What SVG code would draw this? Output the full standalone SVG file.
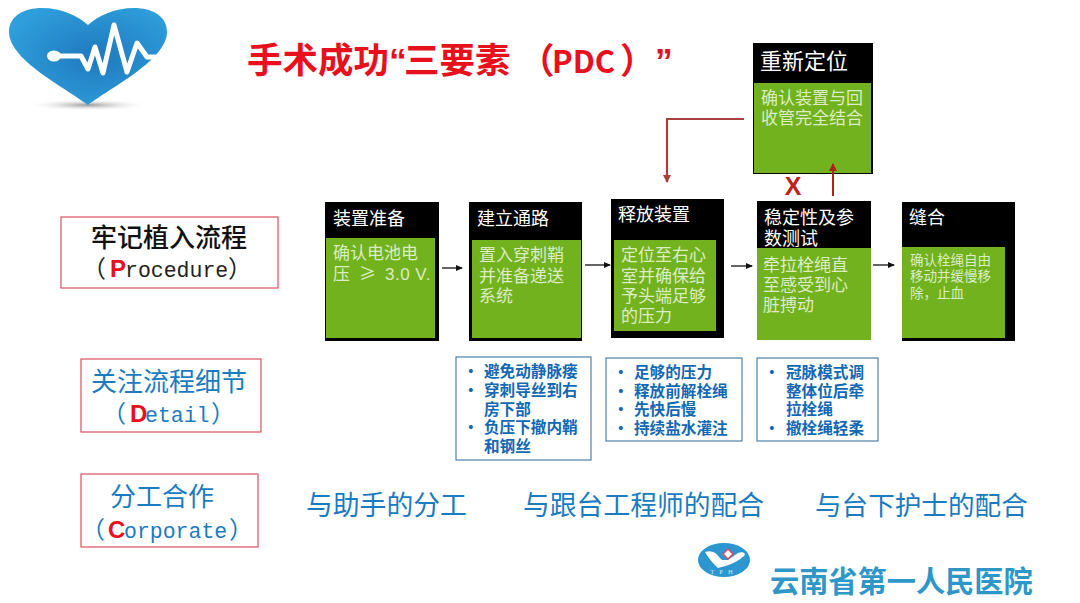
<svg xmlns="http://www.w3.org/2000/svg" width="1080" height="603" viewBox="0 0 1080 603">
<style>
text{font-family:"Noto Sans CJK SC","Liberation Sans",sans-serif}
.blk{fill:#000}
.grn{fill:#73b21f}
.hd{fill:#fff;font-size:18px}
.bd{fill:#dcedc4;font-size:17px}
.lbl{fill:#fff;stroke:#d9505f;stroke-width:1.2}
.det{fill:#fff;stroke:#4f81a8;stroke-width:1.2}
.dt{fill:#1168b4;font-size:15.6px;font-weight:700}
.big{font-size:26px}
.mono{font-family:"Liberation Mono","Noto Sans CJK SC",monospace;font-size:21.5px}
.par{font-family:"Noto Sans CJK SC",sans-serif;font-size:24px}
.blue{fill:#1b7bc0}
.red{fill:#e8101c;font-weight:700;font-size:24px;font-family:"Liberation Sans",sans-serif}
.conn{fill:none;stroke:#111;stroke-width:1.3;marker-end:url(#ah)}
.back{fill:none;stroke:#a8423f;stroke-width:2.2;marker-end:url(#rh)}
.ttl{font-size:35.5px;font-weight:700;fill:#e8101c}
</style>
<defs>
<marker id="ah" markerWidth="7" markerHeight="6" refX="6" refY="3" orient="auto" markerUnits="userSpaceOnUse"><path d="M0 0L7 3L0 6z" fill="#111"/></marker>
<marker id="rh" markerWidth="8" markerHeight="9" refX="7" refY="4" orient="auto" markerUnits="userSpaceOnUse"><path d="M0 0L8 4L0 8z" fill="#a8423f"/></marker>
<marker id="rh2" markerWidth="8" markerHeight="9" refX="7" refY="4" orient="auto" markerUnits="userSpaceOnUse"><path d="M0 0L8 4L0 8z" fill="#b0201c"/></marker>
<radialGradient id="sh"><stop offset="0" stop-color="#9a9a9a"/><stop offset="1" stop-color="#fff" stop-opacity="0"/></radialGradient>
<radialGradient id="hg" cx="0.55" cy="0.5" r="0.6"><stop offset="0" stop-color="#1f78bd"/><stop offset="1" stop-color="#2f9fdc"/></radialGradient>
</defs>
<rect width="1080" height="603" fill="#fff"/>

<g id="heart-logo">
<ellipse cx="88" cy="105" rx="62" ry="6" fill="url(#sh)"/>
<path d="M88 105C66 88 9 60 9 32C9 16 24 8 42 8C62 8 78 16 88 25C98 16 114 8 134 8C152 8 167 16 167 32C167 60 110 88 88 105z" fill="url(#hg)"/>
<path d="M53 56H81L88 69L95 47L103 73L114 25L127 72L137 43L147 57H158" fill="none" stroke="#fff" stroke-width="5" stroke-linejoin="round" stroke-linecap="round"/>
<ellipse cx="54" cy="56" rx="7" ry="5.5" fill="#fff"/>
</g>

<text id="title" class="ttl" y="73"><tspan x="247">手术成功</tspan><tspan x="389" font-family="Liberation Sans">“</tspan><tspan x="404">三要素</tspan><tspan x="519">（</tspan><tspan x="552" font-size="31">PDC</tspan><tspan x="620">）</tspan><tspan x="655" font-family="Liberation Sans">”</tspan></text>

<g id="node-relocate">
<rect class="blk" x="753" y="43" width="120" height="131"/>
<rect class="grn" x="754" y="83" width="117" height="90"/>
<text class="hd" x="760" y="69" style="font-size:22px">重新定位</text>
<text class="bd" x="761" y="104">确认装置与回</text>
<text class="bd" x="761" y="124">收管完全结合</text>
</g>

<g id="node-prepare">
<rect class="blk" x="325" y="202" width="114" height="139"/>
<rect class="grn" x="326" y="238" width="109" height="100"/>
<text class="hd" x="333" y="225">装置准备</text>
<text class="bd" x="333" y="259">确认电池电</text>
<text class="bd" y="280"><tspan x="333">压</tspan><tspan x="359">≥</tspan><tspan x="385" style="font-family:'Liberation Sans',sans-serif" font-size="17" letter-spacing="0.5">3.0 V.</tspan></text>
</g>

<g id="node-access">
<rect class="blk" x="469" y="202" width="113" height="139"/>
<rect class="grn" x="472" y="240" width="109" height="98"/>
<text class="hd" x="477" y="225">建立通路</text>
<text class="bd" x="479" y="261">置入穿刺鞘</text>
<text class="bd" x="479" y="282">并准备递送</text>
<text class="bd" x="479" y="302">系统</text>
</g>

<g id="node-release">
<rect class="blk" x="611" y="199" width="113" height="139"/>
<rect class="grn" x="614" y="240" width="102" height="91"/>
<text class="hd" x="618" y="221">释放装置</text>
<text class="bd" x="621" y="261">定位至右心</text>
<text class="bd" x="621" y="282">室并确保给</text>
<text class="bd" x="621" y="302">予头端足够</text>
<text class="bd" x="621" y="322">的压力</text>
</g>

<g id="node-test">
<rect class="blk" x="757" y="201" width="114" height="139"/>
<rect class="grn" x="757" y="248" width="114" height="92"/>
<text class="hd" x="764" y="224">稳定性及参</text>
<text class="hd" x="764" y="245">数测试</text>
<text class="bd" x="763" y="271">牵拉栓绳直</text>
<text class="bd" x="763" y="291">至感受到心</text>
<text class="bd" x="763" y="311">脏搏动</text>
</g>

<g id="node-suture">
<rect class="blk" x="902" y="202" width="113" height="139"/>
<rect class="grn" x="902" y="247" width="103" height="91"/>
<text class="hd" x="909" y="224">缝合</text>
<text class="bd" x="910" y="265" style="font-size:13.5px">确认栓绳自由</text>
<text class="bd" x="910" y="281" style="font-size:13.5px">移动并缓慢移</text>
<text class="bd" x="910" y="298" style="font-size:13.5px">除，止血</text>
</g>

<g id="connectors">
<path class="conn" d="M442 268H462"/>
<path class="conn" d="M585 265H610"/>
<path class="conn" d="M731 266H752"/>
<path class="conn" d="M873 265H894"/>
<path class="back" d="M744 119H667V182"/>
<path d="M833 196V164" fill="none" stroke="#b0201c" stroke-width="2" marker-end="url(#rh2)"/>
</g>
<text id="x-mark" x="793" y="195" font-size="25" font-weight="700" fill="#c0201c" text-anchor="middle" style="font-family:'Liberation Sans',sans-serif">X</text>

<g id="detail-access">
<rect class="det" x="456" y="357" width="135" height="103"/>
<text class="dt" x="463" y="377">•</text><text class="dt" x="484" y="377">避免动静脉瘘</text>
<text class="dt" x="463" y="396">•</text><text class="dt" x="484" y="396">穿刺导丝到右</text>
<text class="dt" x="484" y="415">房下部</text>
<text class="dt" x="463" y="433">•</text><text class="dt" x="484" y="433">负压下撤内鞘</text>
<text class="dt" x="484" y="452">和钢丝</text>
</g>

<g id="detail-release">
<rect class="det" x="606" y="358" width="136" height="83"/>
<text class="dt" x="613" y="378">•</text><text class="dt" x="634" y="378">足够的压力</text>
<text class="dt" x="613" y="397">•</text><text class="dt" x="634" y="397">释放前解栓绳</text>
<text class="dt" x="613" y="415">•</text><text class="dt" x="634" y="415">先快后慢</text>
<text class="dt" x="613" y="434">•</text><text class="dt" x="634" y="434">持续盐水灌注</text>
</g>

<g id="detail-test">
<rect class="det" x="757" y="358" width="121" height="83"/>
<text class="dt" x="764" y="378">•</text><text class="dt" x="786" y="378">冠脉模式调</text>
<text class="dt" x="786" y="397">整体位后牵</text>
<text class="dt" x="786" y="415">拉栓绳</text>
<text class="dt" x="764" y="434">•</text><text class="dt" x="786" y="434">撤栓绳轻柔</text>
</g>

<g id="label-procedure">
<rect class="lbl" x="61" y="217" width="217" height="71"/>
<text class="big" x="91" y="247" fill="#111" font-weight="500">牢记植入流程</text>
<text class="mono" y="277" fill="#222"><tspan class="par" x="82">（</tspan><tspan class="red" x="110">P</tspan><tspan x="125">rocedure</tspan><tspan class="par" x="228">）</tspan></text>
</g>

<g id="label-detail">
<rect class="lbl" x="81" y="359" width="180" height="73"/>
<text class="big blue" x="91" y="391">关注流程细节</text>
<text class="mono blue" y="422"><tspan class="par" x="102">（</tspan><tspan class="red" x="130">D</tspan><tspan x="145">etail</tspan><tspan class="par" x="211">）</tspan></text>
</g>

<g id="label-corporate">
<rect class="lbl" x="81" y="474" width="177" height="73"/>
<text class="big blue" x="110" y="506">分工合作</text>
<text class="mono blue" y="538"><tspan class="par" x="81">（</tspan><tspan class="red" x="108">C</tspan><tspan x="124">orporate</tspan><tspan class="par" x="229">）</tspan></text>
</g>

<g id="roles">
<text class="blue" x="306" y="515" font-size="26.8">与助手的分工</text>
<text class="blue" x="523" y="515" font-size="26.8">与跟台工程师的配合</text>
<text class="blue" x="815" y="515" font-size="26.6">与台下护士的配合</text>
</g>

<g id="hospital-logo">
<ellipse cx="724" cy="560" rx="26" ry="17" fill="#2b96cf"/>
<path d="M705 552C711 550 716 552 719 557L722 560L728 560L738 553C742 551 747 553 744 556C739 561 728 566 718 568C712 563 708 557 705 552z" fill="#fff"/>
<path d="M723 554L728 549L733 554L728 559z" fill="#fff" stroke="#d9505f" stroke-width="1.5"/>
<text x="724" y="574" font-size="6.5" fill="#cfe8f4" text-anchor="middle" style="font-family:'Liberation Serif',serif" letter-spacing="5">TPH</text>
<text x="770" y="592" font-size="29.2" font-weight="700" fill="#2f97c8">云南省第一人民医院</text>
</g>
</svg>
